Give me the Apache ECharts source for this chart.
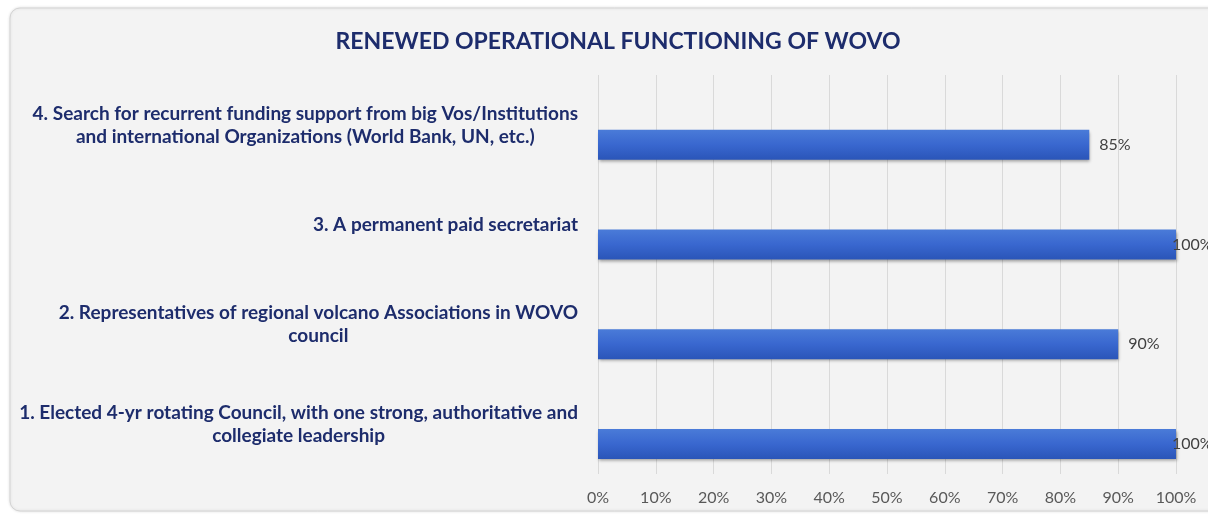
<!DOCTYPE html>
<html>
<head>
<meta charset="utf-8">
<script src="https://cdn.jsdelivr.net/npm/echarts@6/dist/echarts.min.js"></script>
<style>
html,body{margin:0;padding:0;background:#ffffff;}
#chart{width:1208px;height:515px;}
</style>
</head>
<body>
<div id="chart"></div>
<script>
const titleText = 'RENEWED OPERATIONAL FUNCTIONING OF WOVO';
const categories = [
  '1. Elected 4-yr rotating Council, with one strong, authoritative and\ncollegiate leadership',
  '2. Representatives of regional volcano Associations in WOVO\ncouncil',
  '3. A permanent paid secretariat',
  '4. Search for recurrent funding support from big Vos/Institutions\nand international Organizations (World Bank, UN, etc.)'
];
const values = [100, 90, 100, 85];
const tickLabels = ['0%','10%','20%','30%','40%','50%','60%','70%','80%','90%','100%'];

const chart = echarts.init(document.getElementById('chart'), null, {renderer: 'canvas'});
const navy = '#1d2c6c';
chart.setOption({
  animation: false,
  backgroundColor: '#ffffff',
  graphic: [{
    type: 'rect', z: -10, silent: true,
    shape: {x: 10, y: 8, width: 1220, height: 503, r: 10},
    style: {fill: '#f3f3f3', stroke: '#d4d4d4', lineWidth: 1, shadowBlur: 3, shadowColor: 'rgba(0,0,0,0.12)'}
  }],
  title: {
    text: titleText,
    left: 613, top: 25, textAlign: 'center',
    textStyle: {fontFamily: 'Lato', fontWeight: 'bold', fontSize: 23, color: navy}
  },
  grid: {left: 598, right: 32, top: 75, bottom: 41, containLabel: false},
  xAxis: {
    type: 'value', min: 0, max: 100, interval: 10,
    axisLine: {show: false}, axisTick: {show: false},
    splitLine: {show: true, lineStyle: {color: '#d9d9d9', width: 1}},
    axisLabel: {
      margin: 16, color: '#595959', fontSize: 16, fontFamily: 'Lato',
      formatter: v => tickLabels[Math.round(v / 10)]
    }
  },
  yAxis: {
    type: 'category', data: categories,
    axisLine: {show: false}, axisTick: {show: false},
    axisLabel: {
      margin: 20, align: 'right',
      formatter: v => v.split('\n').map(s => '{c|' + s + '}').join('\n'),
      rich: {c: {align: 'center', fontFamily: 'Lato', fontWeight: 'bold', fontSize: 19, color: navy, lineHeight: 23}}
    }
  },
  series: [
    {type: 'bar', name: 'spacer', data: [], barWidth: 30, barGap: '33%'},
    {
      type: 'bar', name: 'Share',
      barWidth: 30, barGap: '33%',
      data: values.map(v => ({value: v, label: {distance: v >= 100 ? -4 : 10}})),
      itemStyle: {
        color: new echarts.graphic.LinearGradient(0, 0, 0, 1, [
          {offset: 0, color: '#4a7bd8'},
          {offset: 0.5, color: '#3967cf'},
          {offset: 1, color: '#2a55b8'}
        ]),
        shadowColor: 'rgba(0,0,0,0.35)', shadowBlur: 3, shadowOffsetY: 2, shadowOffsetX: 1
      },
      label: {
        show: true, position: 'right', color: '#404040', fontSize: 16, fontFamily: 'Lato',
        formatter: p => p.value + '%'
      }
    }
  ]
});
</script>
</body>
</html>
